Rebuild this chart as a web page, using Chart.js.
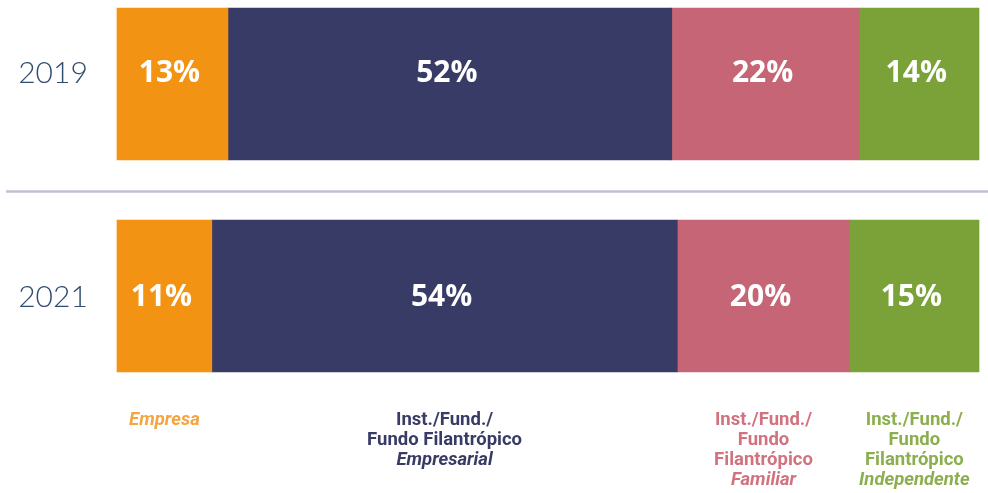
<!DOCTYPE html>
<html>
<head>
<meta charset="utf-8">
<script src="https://cdn.jsdelivr.net/npm/chart.js@4/dist/chart.umd.min.js"></script>
<style>
  body { margin: 0; background: #fff; }
</style>
</head>
<body>
<canvas id="grafico" width="988" height="493"></canvas>
<script>
// dados
const anos = ['2019', '2021'];
const empresa = [13, 11];
const empresarial = [52, 54];
const familiar = [22, 20];
const independente = [14, 15];

const series = [
  { nome: 'Empresa', valores: empresa, cor: '#F29314', corTexto: '#F5A540',
    linhas: [['Empresa', true]] },
  { nome: 'Empresarial', valores: empresarial, cor: '#383B66', corTexto: '#383B66',
    linhas: [['Inst./Fund./', false], ['Fundo Filantrópico', false], ['Empresarial', true]] },
  { nome: 'Familiar', valores: familiar, cor: '#C56575', corTexto: '#D0737F',
    linhas: [['Inst./Fund./', false], ['Fundo', false], ['Filantrópico', false], ['Familiar', true]] },
  { nome: 'Independente', valores: independente, cor: '#7AA239', corTexto: '#8BAE4E',
    linhas: [['Inst./Fund./', false], ['Fundo', false], ['Filantrópico', false], ['Independente', true]] }
];

// total de cada ano (2019 soma 101 por arredondamento)
const totais = anos.map((a, i) => series.reduce((s, d) => s + d.valores[i], 0));

const rotulos = {
  id: 'rotulos',
  afterDatasetsDraw(chart) {
    const ctx = chart.ctx;
    const y = chart.scales.y;
    const area = chart.chartArea;
    // no original os textos de 2019 ficam um pouco acima do centro da barra
    const ajuste = i => (i === 0 ? -11 : 1);
    ctx.save();

    // linha separadora
    const meio = (y.getPixelForValue(0) + y.getPixelForValue(1)) / 2 + 1.5;
    ctx.strokeStyle = '#BEC2D3';
    ctx.lineWidth = 2.5;
    ctx.beginPath();
    ctx.moveTo(6, meio);
    ctx.lineTo(chart.width, meio);
    ctx.stroke();

    // anos
    ctx.fillStyle = '#2F4B6E';
    ctx.font = '300 30px Lato';
    ctx.textAlign = 'center';
    ctx.textBaseline = 'middle';
    anos.forEach((a, i) => ctx.fillText(a, area.left - 64, y.getPixelForValue(i) + ajuste(i)));

    // percentuais
    ctx.fillStyle = '#fff';
    ctx.font = 'bold 30px "Open Sans"';
    series.forEach((s, d) => {
      chart.getDatasetMeta(d).data.forEach((el, i) => {
        ctx.fillText(s.valores[i] + '%', (el.x + el.base) / 2 - 3, el.y + ajuste(i));
      });
    });

    // legenda embaixo
    ctx.textBaseline = 'alphabetic';
    series.forEach((s, d) => {
      const el = chart.getDatasetMeta(d).data[1];
      const cx = (el.x + el.base) / 2;
      ctx.fillStyle = s.corTexto;
      s.linhas.forEach((l, k) => {
        ctx.font = (l[1] ? 'italic ' : '') + 'bold 18.5px Roboto';
        ctx.fillText(l[0], cx, 425 + k * 20);
      });
    });
    ctx.restore();
  }
};

new Chart(document.getElementById('grafico'), {
  type: 'bar',
  data: {
    labels: anos,
    datasets: series.map(s => ({
      label: s.nome,
      data: s.valores.map((v, i) => v / totais[i] * 100),
      backgroundColor: s.cor,
      borderWidth: 0,
      barThickness: 152,
      clip: false
    }))
  },
  options: {
    indexAxis: 'y',
    responsive: false,
    animation: false,
    layout: { padding: { left: 117, right: 9, top: 84, bottom: 197 } },
    plugins: { legend: { display: false }, tooltip: { enabled: false } },
    scales: {
      x: { stacked: true, min: 0, max: 100, display: false },
      y: { stacked: true, offset: false, display: false }
    }
  },
  plugins: [rotulos]
});
</script>
</body>
</html>
